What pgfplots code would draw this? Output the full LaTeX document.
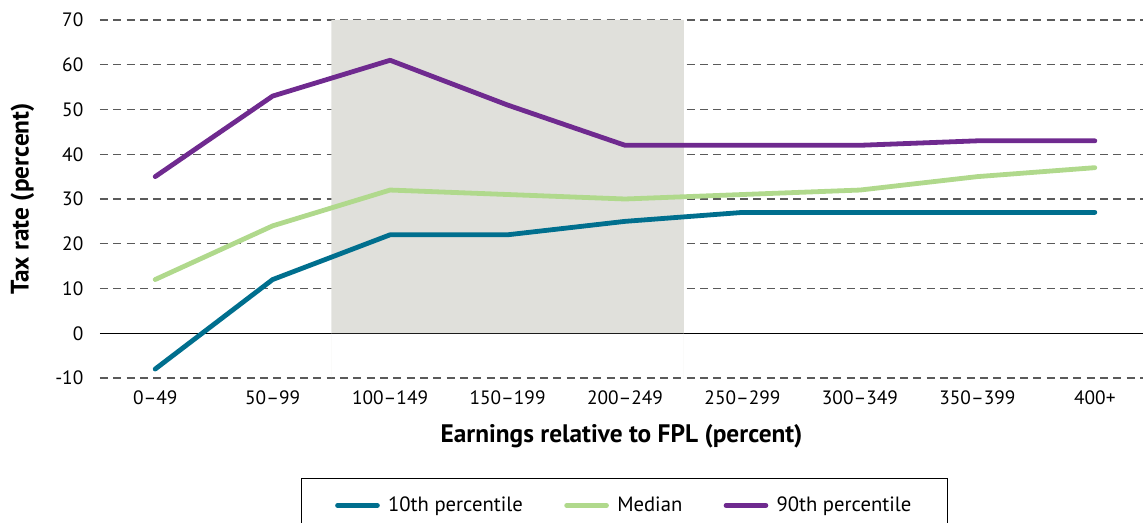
\documentclass[border=0pt]{standalone}
\usepackage{pgfplots}
\pgfplotsset{compat=1.18}
\usepackage{fontspec}
\setmainfont{PT Sans}
\definecolor{cTeal}{RGB}{0,111,142}
\definecolor{cGreen}{RGB}{176,217,140}
\definecolor{cPurple}{RGB}{111,42,143}
\definecolor{cShade}{RGB}{224,224,219}
\definecolor{cGrid}{RGB}{90,90,90}
\begin{document}
\begin{tikzpicture}
\begin{axis}[
  at={(75pt,108.75pt)}, anchor=south west,
  scale only axis, width=782.25pt, height=268.5pt,
  xmin=-0.47, xmax=8.41, ymin=-10, ymax=70,
  xtick={0,1,2,3,4,5,6,7,8},
  xticklabels={0--49,50--99,100--149,150--199,200--249,250--299,300--349,350--399,400+},
  ytick={-10,10,20,30,40,50,60,70},
  extra y ticks={0},
  extra y tick style={grid style={solid,black,line width=0.8pt}},
  axis line style={draw=none},
  major tick length=0pt,
  ymajorgrids,
  grid style={cGrid,line width=0.8pt,dash pattern=on 6pt off 4pt},
  /pgf/number format/assume math mode=true,
  tick label style={font=\fontsize{14.5pt}{16pt}\selectfont},
  yticklabel style={xshift=-9pt},
  xticklabel style={yshift=-6pt},
  xlabel={\bfseries Earnings relative to FPL (percent)},
  ylabel={\bfseries Tax rate (percent)},
  label style={font=\fontsize{19pt}{21pt}\selectfont},
  xlabel style={yshift=-8pt},
  ylabel style={yshift=9pt},
  legend columns=3,
  legend style={at={(0.503,-0.279)}, anchor=north, draw=black, line width=0.8pt,
    font=\fontsize{15.5pt}{17pt}\selectfont, inner xsep=25pt, inner ysep=12pt,
    /tikz/every even column/.append style={column sep=29pt}},
  legend image code/.code={\draw[#1,line width=3.6pt,line cap=round] (0cm,0cm) -- (1.05cm,0cm); \path (1.2cm,0cm);},
  every axis plot/.append style={line width=3.6pt, line cap=round, line join=round},
]
\addplot[fill=cShade, draw=none, forget plot] coordinates {(1.5,-10) (1.5,70) (4.5,70) (4.5,-10)} \closedcycle;
\addplot[cTeal] coordinates {(0,-8) (1,12) (2,22) (3,22) (4,25) (5,27) (6,27) (7,27) (8,27)};
\addplot[cGreen] coordinates {(0,12) (1,24) (2,32) (3,31) (4,30) (5,31) (6,32) (7,35) (8,37)};
\addplot[cPurple] coordinates {(0,35) (1,53) (2,61) (3,51) (4,42) (5,42) (6,42) (7,43) (8,43)};
\legend{10th percentile, Median, 90th percentile}
\end{axis}
\pgfresetboundingbox
\useasboundingbox (0pt,0pt) rectangle (857.25pt,392.25pt);
\end{tikzpicture}
\end{document}
